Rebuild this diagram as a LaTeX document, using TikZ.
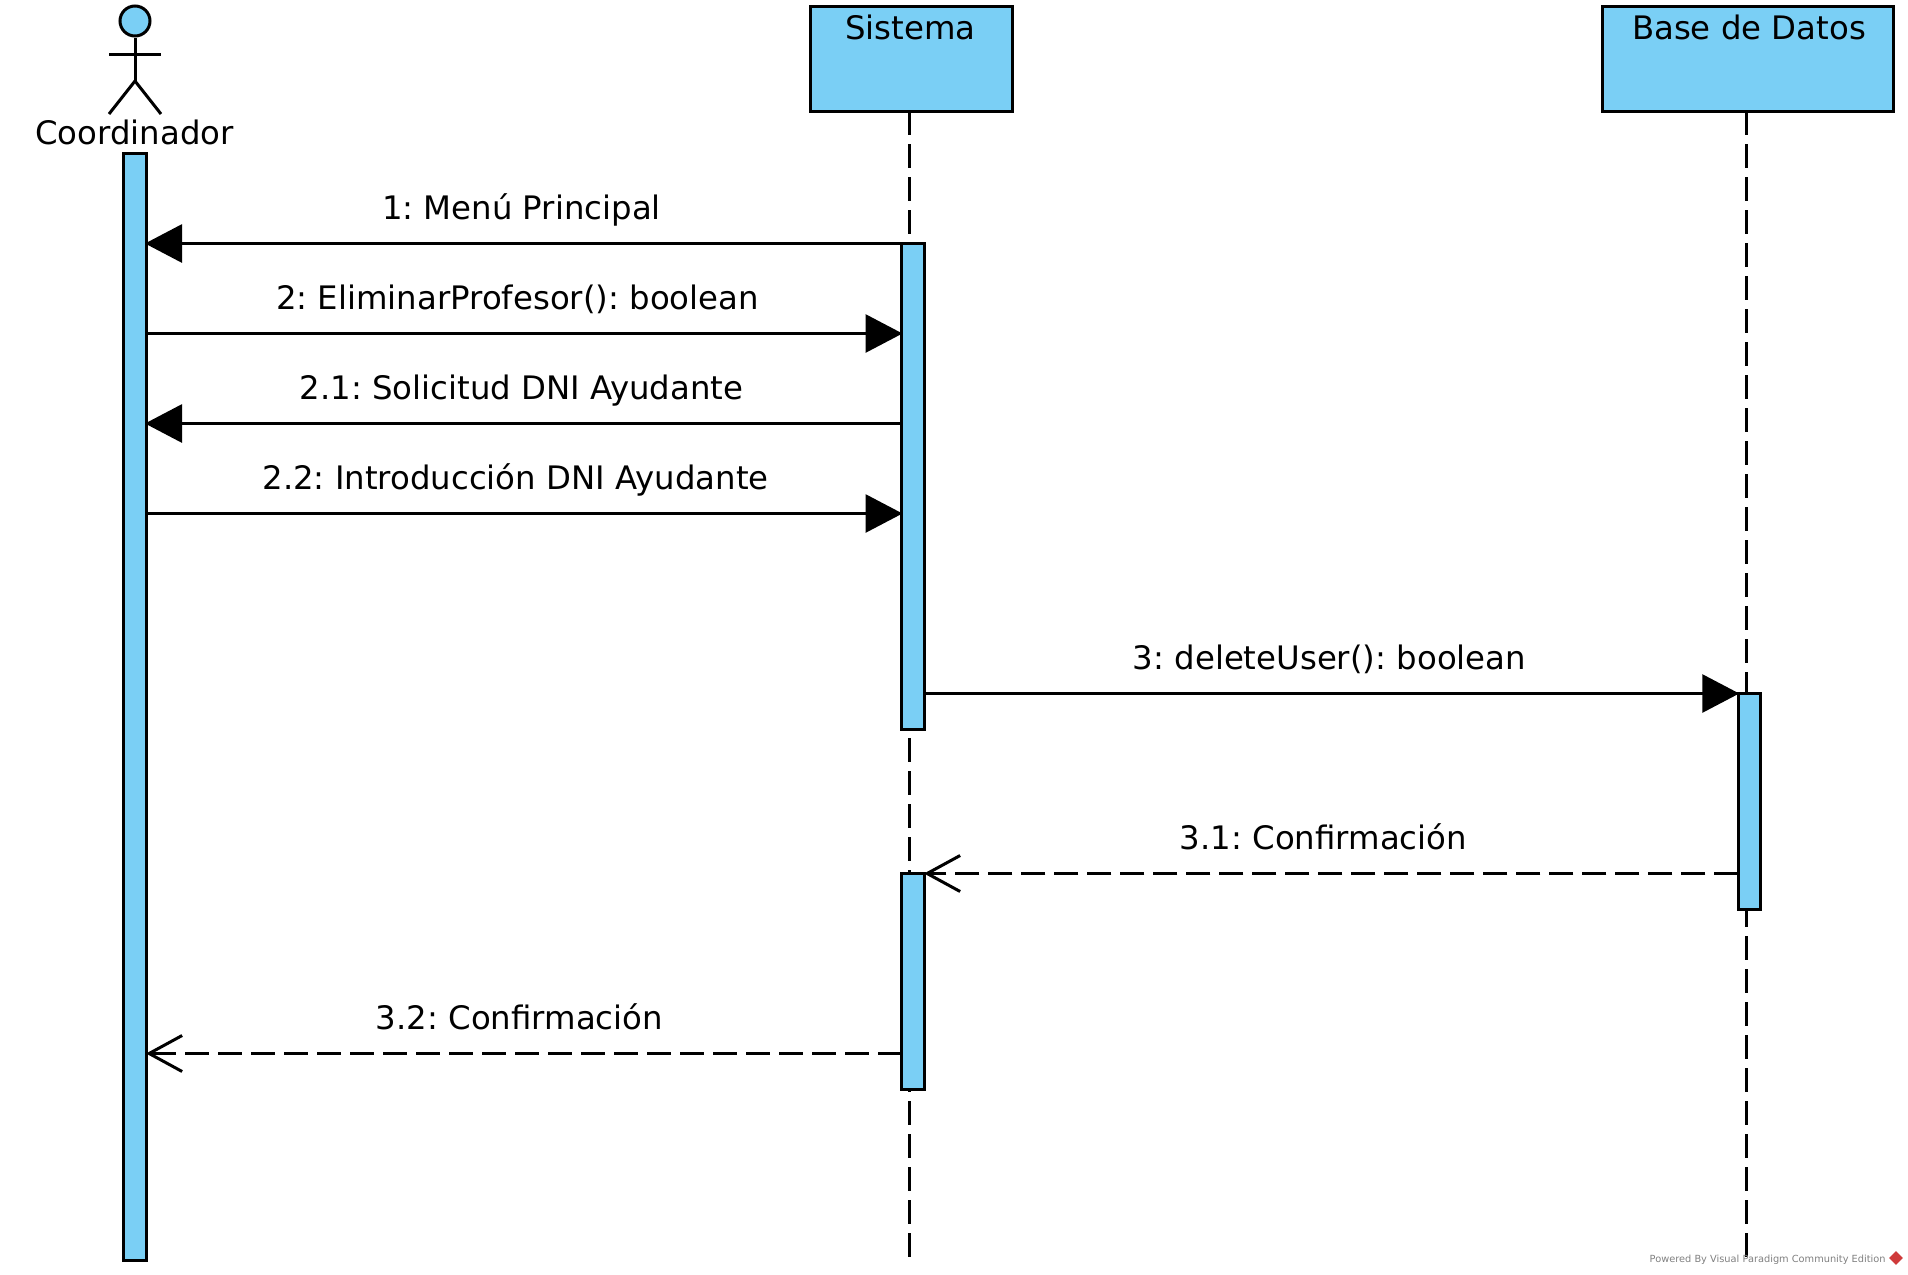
\documentclass[tikz,border=0pt]{standalone}
\usepackage{fontspec}
\setmainfont{DejaVu Sans}
\usetikzlibrary{arrows.meta,shapes.geometric}
\definecolor{barblue}{HTML}{7ACFF5}
\definecolor{logored}{HTML}{CF3A3A}
\frenchspacing
\tikzset{
    box/.style={draw, fill=barblue, line width=1.5pt, inner sep=0pt, outer sep=0pt, rectangle},
    txt/.style={font=\fontsize{16.18}{18}\selectfont, inner sep=0pt, outer sep=0pt, anchor=base},
    lifeline/.style={line width=1.5pt, dash pattern=on 12pt off 4.5pt},
    stick/.style={line width=1.5pt},
    msg/.style={line width=1.5pt, shorten >=-0.5pt, -{Triangle[length=18.5pt,width=19pt]}},
    ret/.style={line width=1.5pt, dash pattern=on 12pt off 4.5pt, -{Straight Barb[length=16.5pt,width=18pt]}}
}
\begin{document}
\begin{tikzpicture}[x=0.5pt,y=-0.5pt]
    \useasboundingbox (0,0) rectangle (1908,1275);

    % Lifelines
    \node[box, minimum width=101pt, minimum height=52.5pt] (sistema) at (911,58.5) {};
    \node[box, minimum width=145.5pt, minimum height=52.5pt] (base) at (1747.5,58.5) {};
    \coordinate (sistemaend) at (909,1260);
    \coordinate (baseend) at (1746,1260);
    \draw[lifeline] (sistemaend |- sistema.south) -- (sistemaend);
    \draw[lifeline] (baseend |- base.south) -- (baseend);
    \node[txt] (sistemalabel) at (910.5,39) {Sistema};
    \node[txt] (baselabel) at (1749,39) {Base de Datos};

    % Actor
    \node[circle, draw, fill=barblue, line width=1.5pt, inner sep=0pt, minimum size=15pt] (head) at (135,21) {};
    \coordinate (hip) at (135,81);
    \coordinate (armleft) at (109,54);
    \coordinate (armright) at (161,54);
    \coordinate (footleft) at (109,114);
    \coordinate (footright) at (161,114);
    \draw[stick] (head.south) -- (hip);
    \draw[stick] (armleft) -- (armright);
    \draw[stick] (footleft) -- (hip) -- (footright);
    \node[txt] (coordinador) at (134.5,144) {Coordinador};

    % Activation bars
    \node[box, minimum width=11.25pt, minimum height=553.5pt] (coordbar) at (134.75,706.5) {};
    \node[box, minimum width=11.25pt, minimum height=243pt] (sisbarone) at (912.75,486) {};
    \node[box, minimum width=11.25pt, minimum height=108pt] (sisbartwo) at (912.75,981) {};
    \node[box, minimum width=11.25pt, minimum height=108pt] (basebar) at (1749.5,801.5) {};

    % Messages
    \coordinate (mone) at (0,243.5);
    \coordinate (mtwo) at (0,333.5);
    \coordinate (mthree) at (0,423.5);
    \coordinate (mfour) at (0,513.5);
    \coordinate (mfive) at (0,693.5);
    \coordinate (msix) at (0,873.5);
    \coordinate (mseven) at (0,1053.5);
    \draw[msg] (sisbarone.west |- mone) -- (coordbar.east |- mone);
    \draw[msg] (coordbar.east |- mtwo) -- (sisbarone.west |- mtwo);
    \draw[msg] (sisbarone.west |- mthree) -- (coordbar.east |- mthree);
    \draw[msg] (coordbar.east |- mfour) -- (sisbarone.west |- mfour);
    \draw[msg] (sisbarone.east |- mfive) -- (basebar.west |- mfive);
    \draw[ret] (basebar.west |- msix) -- (sisbartwo.east |- msix);
    \draw[ret] (sisbartwo.west |- mseven) -- (coordbar.east |- mseven);

    % Message labels
    \node[txt] (lone) at (521.5,219) {1: Menú Principal};
    \node[txt] (ltwo) at (517.5,309) {2: EliminarProfesor(): boolean};
    \node[txt] (lthree) at (521.5,399) {2.1: Solicitud DNI Ayudante};
    \node[txt] (lfour) at (515.5,489) {2.2: Introducción DNI Ayudante};
    \node[txt] (lfive) at (1329.5,669) {3: deleteUser(): boolean};
    \node[txt] (lsix) at (1323.5,849) {3.1: Confirmación};
    \node[txt] (lseven) at (519.5,1029) {3.2: Confirmación};

    % Watermark
    \node[font=\fontsize{4.9}{6}\selectfont, text=gray, inner sep=0pt, anchor=base east] (powered) at (1886,1262) {Powered By Visual Paradigm Community Edition};
    \node[diamond, fill=logored, inner sep=0pt, minimum size=7pt] (logo) at (1896,1258) {};
\end{tikzpicture}
\end{document}
